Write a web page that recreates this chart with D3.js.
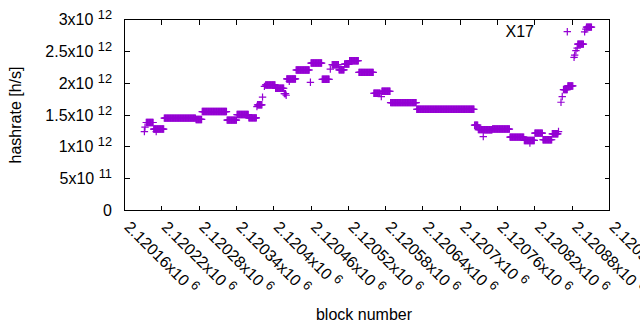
<!DOCTYPE html>
<html>
<head>
<meta charset="utf-8">
<script src="https://cdn.jsdelivr.net/npm/d3@7"></script>
<style>
  body { margin: 0; background: #fff; }
  text { font-family: "Liberation Sans", Arial, sans-serif; fill: #000; }
</style>
</head>
<body>
<div id="chart"></div>
<script>
// ============================================================================
// HASHRATE PER BLOCK - gnuplot style scatter of "+" markers
// ============================================================================

// runs of blocks sharing the same hashrate (start block, end block, value)
const blockStart = [
  2120192, 2120193, 2120195, 2120207, 2120211, 2120224, 2120275, 2120285,
  2120325, 2120341, 2120360, 2120373, 2120374, 2120382, 2120385, 2120387,
  2120403, 2120417, 2120420, 2120421, 2120425, 2120436, 2120459, 2120460,
  2120478, 2120491, 2120494, 2120505, 2120514, 2120522, 2120537, 2120561,
  2120573, 2120574, 2120588, 2120630, 2120723, 2120729, 2120737, 2120739,
  2120752, 2120780, 2120803, 2120812, 2120820, 2120833, 2120848, 2120858,
  2120862, 2120864, 2120866, 2120873, 2120883, 2120884, 2120886, 2120888,
  2120889, 2120900, 2120902, 2120903
];
const blockEnd = [
  2120192, 2120193, 2120206, 2120223, 2120211, 2120274, 2120284, 2120324,
  2120340, 2120359, 2120372, 2120373, 2120381, 2120382, 2120385, 2120402,
  2120416, 2120419, 2120420, 2120435, 2120425, 2120457, 2120459, 2120477,
  2120489, 2120491, 2120504, 2120513, 2120521, 2120536, 2120560, 2120571,
  2120573, 2120587, 2120629, 2120722, 2120728, 2120738, 2120737, 2120751,
  2120779, 2120802, 2120819, 2120812, 2120832, 2120847, 2120857, 2120858,
  2120862, 2120864, 2120872, 2120881, 2120883, 2120884, 2120886, 2120888,
  2120898, 2120900, 2120902, 2120911
];
// hashrate in units of 10^12 h/s
const hashrate = [
  1.24, 1.31, 1.382, 1.279, 1.24, 1.451, 1.43, 1.554,
  1.419, 1.507, 1.455, 1.633, 1.66, 1.78, 1.95, 1.972,
  1.92, 1.836, 1.81, 2.066, 2.03, 2.207, 2.014, 2.316,
  2.061, 2.22, 2.29, 2.21, 2.30, 2.352, 2.17, 1.842,
  1.79, 1.873, 1.695, 1.59, 1.34, 1.27, 1.16, 1.268,
  1.279, 1.153, 1.10, 1.06, 1.216, 1.111, 1.205, 1.24,
  1.70, 1.79, 1.90, 1.956, 2.405, 2.44, 2.51, 2.55,
  2.613, 2.806, 2.848, 2.88
];

const seriesTitle = "X17";
const xTicks = d3.range(2120160, 2120941, 60);
const yTicks = [0, 0.5e12, 1e12, 1.5e12, 2e12, 2.5e12, 3e12];

const width = 640;
const height = 330;
const plot = { left: 124.5, top: 19.5, right: 609.5, bottom: 210.5 };
const color = "#9400d3";
const markSize = 3.7;

// expand runs into one point per block
const points = [];
blockStart.forEach((s, i) => {
  for (let b = s; b <= blockEnd[i]; b++) {
    points.push({ block: b, value: hashrate[i] * 1e12 });
  }
});

// "2.12016x10^6" style pieces
function sciParts(v) {
  if (v === 0) return { mant: "0", exp: null };
  const exp = Math.floor(Math.log10(v));
  const mant = +(v / Math.pow(10, exp)).toPrecision(6);
  return { mant: mant + "x10 ", exp: String(exp) };
}

const svg = d3.select("#chart")
  .append("svg")
  .attr("width", width)
  .attr("height", height);

const x = d3.scaleLinear()
  .domain([2120160, 2120940])
  .range([plot.left, plot.right]);

const y = d3.scaleLinear()
  .domain([0, 3e12])
  .range([plot.bottom, plot.top]);

// --- Ticks (inward, mirrored) ---
const tickLen = 5;
const tickG = svg.append("g")
  .attr("stroke", "#000")
  .attr("stroke-width", 1)
  .attr("shape-rendering", "crispEdges");

xTicks.forEach((t) => {
  const px = Math.round(x(t) - 0.5) + 0.5;
  tickG.append("line").attr("x1", px).attr("x2", px)
    .attr("y1", plot.bottom).attr("y2", plot.bottom - tickLen);
  tickG.append("line").attr("x1", px).attr("x2", px)
    .attr("y1", plot.top).attr("y2", plot.top + tickLen);
});

yTicks.forEach((t) => {
  const py = Math.round(y(t) - 0.5) + 0.5;
  tickG.append("line").attr("x1", plot.left).attr("x2", plot.left + tickLen)
    .attr("y1", py).attr("y2", py);
  tickG.append("line").attr("x1", plot.right).attr("x2", plot.right - tickLen)
    .attr("y1", py).attr("y2", py);
});

// --- Y tick labels ---
yTicks.forEach((t) => {
  const p = sciParts(t);
  const txt = svg.append("text")
    .attr("x", 112)
    .attr("y", y(t) + 5.5)
    .attr("text-anchor", "end")
    .style("font-size", "16px")
    .text(p.mant);
  if (p.exp) {
    txt.append("tspan")
      .attr("dy", -6)
      .style("font-size", "12.8px")
      .text(p.exp);
  }
});

// --- X tick labels (rotated) ---
xTicks.forEach((t) => {
  const p = sciParts(t);
  const txt = svg.append("text")
    .attr("transform", `translate(${x(t) + 3}, 224) rotate(45)`)
    .attr("dy", "0.35em")
    .style("font-size", "16px")
    .text(p.mant);
  txt.append("tspan")
    .attr("dy", -6)
    .style("font-size", "12.8px")
    .text(p.exp);
});

// --- Axis titles ---
svg.append("text")
  .attr("x", 364)
  .attr("y", 320)
  .attr("text-anchor", "middle")
  .style("font-size", "16px")
  .text("block number");

svg.append("text")
  .attr("transform", "translate(21, 115) rotate(-90)")
  .attr("text-anchor", "middle")
  .style("font-size", "16px")
  .text("hashrate [h/s]");

// --- Frame ---
svg.append("rect")
  .attr("x", plot.left)
  .attr("y", plot.top)
  .attr("width", plot.right - plot.left)
  .attr("height", plot.bottom - plot.top)
  .attr("fill", "none")
  .attr("stroke", "#000")
  .attr("stroke-width", 1)
  .attr("shape-rendering", "crispEdges");

// --- Points ---
const plus = (cx, cy) =>
  `M${cx - markSize},${cy}h${2 * markSize}M${cx},${cy - markSize}v${2 * markSize}`;

svg.append("g")
  .attr("class", "points")
  .selectAll("path")
  .data(points)
  .enter()
  .append("path")
  .attr("d", (d) => plus(x(d.block), y(d.value)))
  .attr("stroke", color)
  .attr("stroke-width", 1.2)
  .attr("fill", "none");

// --- Key ---
svg.append("text")
  .attr("x", 534)
  .attr("y", 37.3)
  .attr("text-anchor", "end")
  .style("font-size", "16px")
  .text(seriesTitle);

svg.append("path")
  .attr("d", plus(567.3, 31.7))
  .attr("stroke", color)
  .attr("stroke-width", 1.2)
  .attr("fill", "none");
</script>
</body>
</html>
